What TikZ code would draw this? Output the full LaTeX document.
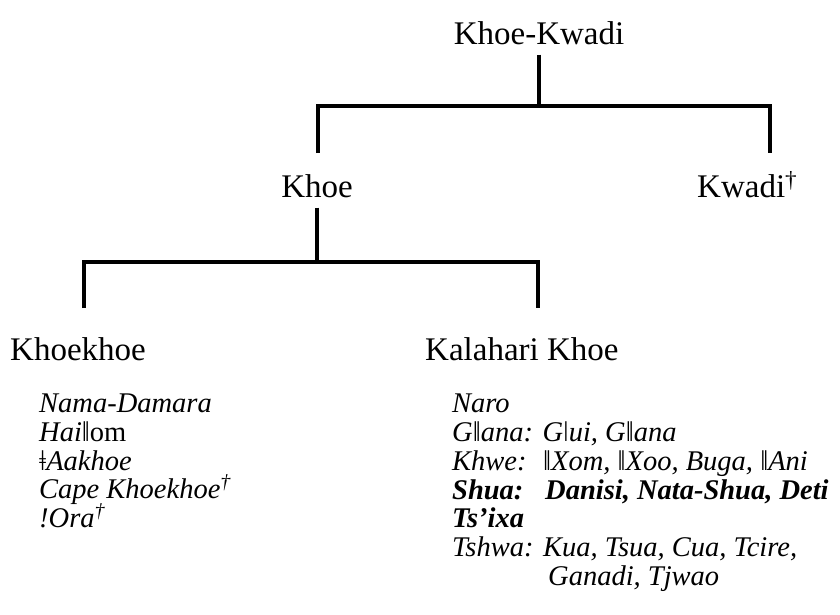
\documentclass[tikz,border=0pt]{standalone}
\usepackage{fontspec}
\setmainfont{Liberation Serif}
\newcommand{\dbar}{{\upshape ǁ}}
\newcommand{\sbar}{{\upshape ǀ}}
\newcommand{\tbar}{{\upshape ǂ}}
\newcommand{\dg}{\textsuperscript{†}}
\tikzset{
  tree/.style={line width=3.5pt, line join=miter},
  lab/.style={font=\fontsize{33}{36}\selectfont, inner sep=0pt},
  item/.style={font=\fontsize{28.5}{30}\selectfont\itshape, inner sep=0pt, anchor=base west},
  bitem/.style={item, font=\fontsize{28.5}{30}\selectfont\bfseries\itshape},
}
\begin{document}
\begin{tikzpicture}[x=1pt,y=-1pt]
\useasboundingbox (0,0) rectangle (840,615);
% top level
\node[lab, anchor=base] (kk) at (539,45) {Khoe-Kwadi};
\coordinate (a1) at (318,106);
\coordinate (a2) at (770,106);
\coordinate (a1e) at (318,153);
\coordinate (a2e) at (770,153);
\draw[tree] ([yshift=-9pt]kk.south) -- (kk.south |- a1);
\draw[tree] (a1e) -- (a1) -- (a2) -- (a2e);
% second level
\node[lab, anchor=base] (khoe) at (317,197) {Khoe};
\node[lab, anchor=base west] (kwadi) at (697,197) {Kwadi\dg};
\coordinate (b1) at (84,262);
\coordinate (b2) at (538,262);
\coordinate (b1e) at (84,308);
\coordinate (b2e) at (538,308);
\draw[tree] ([yshift=-10pt]khoe.south) -- (khoe.south |- b1);
\draw[tree] (b1e) -- (b1) -- (b2) -- (b2e);
% third level
\node[lab, anchor=base west] (khk) at (10,360) {Khoekhoe};
\node[lab, anchor=base west] (kal) at (425,360) {Kalahari Khoe};
% left list
\node[item] (l1) at (39,412) {Nama-Damara};
\node[item] (l2) at (39,441) {Hai\dbar\upshape om};
\node[item] (l3) at (39,470) {\tbar Aakhoe};
\node[item] (l4) at (39,498) {Cape Khoekhoe\dg};
\node[item] (l5) at (39,527) {!Ora\dg};
% right list
\node[item] (r1) at (452,412) {Naro};
\node[item] (r2) at (452,441) {G\dbar ana: G\sbar ui, G\dbar ana};
\node[item] (r3) at (452,470) {\makebox[91pt][l]{Khwe:}\dbar Xom, \dbar Xoo, Buga, \dbar Ani};
\node[bitem] (r4) at (452,499) {\makebox[93pt][l]{Shua:}Danisi, Nata-Shua, Deti};
\node[bitem] (r5) at (452,527) {Ts’ixa};
\node[item] (r6) at (452,556) {Tshwa: Kua, Tsua, Cua, Tcire,};
\node[item] (r7) at (548,585) {Ganadi, Tjwao};
\end{tikzpicture}
\end{document}
